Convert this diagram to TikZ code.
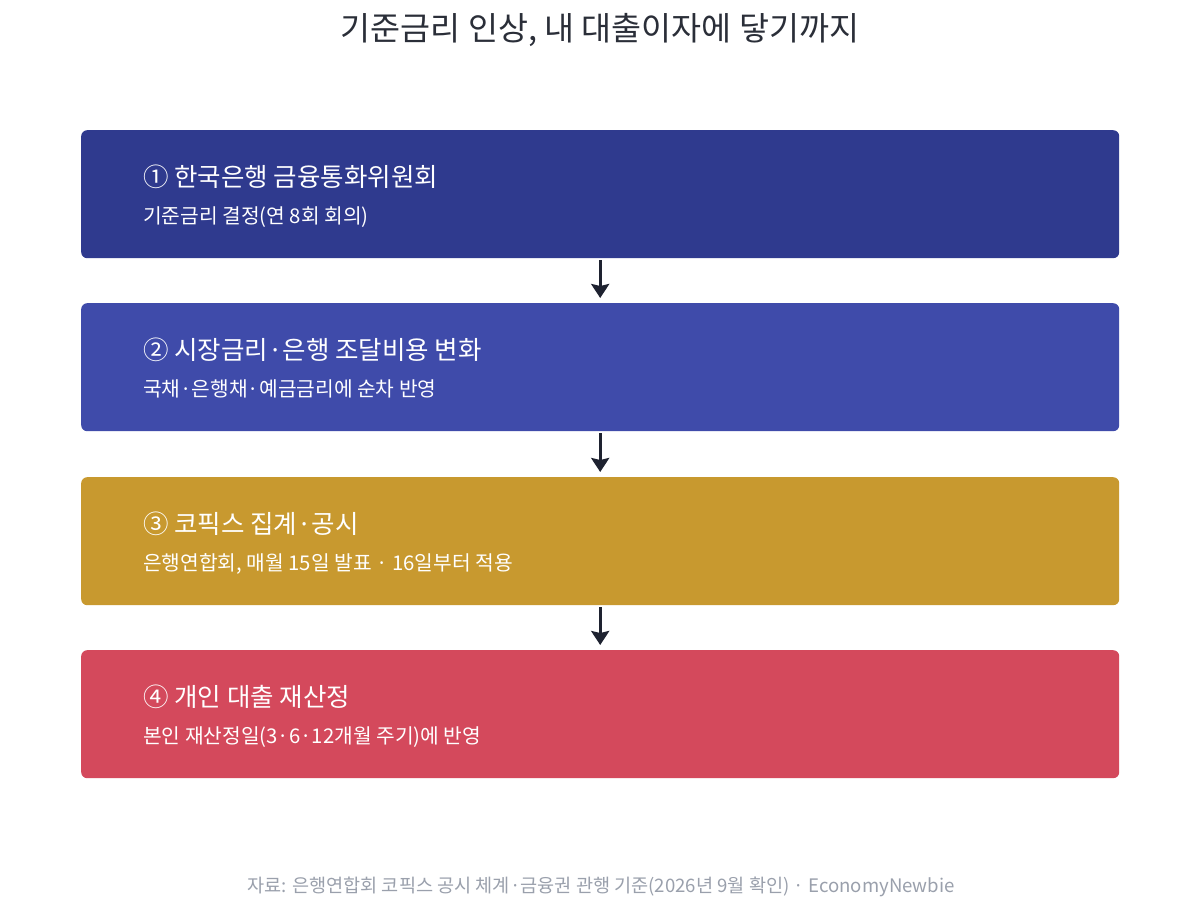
\documentclass[tikz,border=0pt]{standalone}
\usepackage{fontspec}
\setmainfont{Noto Sans CJK KR}
\usetikzlibrary{arrows.meta}
\definecolor{boxA}{HTML}{2F3A8E}
\definecolor{boxB}{HTML}{3F4BAA}
\definecolor{boxC}{HTML}{C8992F}
\definecolor{boxD}{HTML}{D4495C}
\definecolor{titlec}{HTML}{2A2E38}
\definecolor{arrowc}{HTML}{1E2230}
\definecolor{footc}{HTML}{9AA0AC}
\tikzset{
  stepbox/.style={rounded corners=6pt, inner sep=0pt, minimum width=1038pt, minimum height=128pt, anchor=north west},
  headtxt/.style={anchor=base west, inner sep=0pt, text=white, font=\fontsize{25.5}{30}\selectfont},
  subtxt/.style={anchor=base west, inner sep=0pt, text=white, font=\fontsize{20.3}{24}\selectfont},
  flowarrow/.style={draw=arrowc, line width=3.2pt, -{Stealth[length=14pt,width=18pt,inset=2pt]}, shorten <=2pt, shorten >=5pt},
}
\begin{document}
\begin{tikzpicture}[x=1pt,y=-1pt]
\useasboundingbox[fill=white] (0,0) rectangle (1200,910);
\node[anchor=base, inner sep=0pt, text=titlec, font=\fontsize{32.6}{38}\selectfont] (title) at (600,40) {기준금리 인상, 내 대출이자에 닿기까지};
\node[stepbox, fill=boxA] (b1) at (81,130) {};
\node[stepbox, fill=boxB] (b2) at (81,303) {};
\node[stepbox, fill=boxC] (b3) at (81,477) {};
\node[stepbox, fill=boxD] (b4) at (81,650) {};
\node[headtxt] (h1) at (143,186.5) {① 한국은행 금융통화위원회};
\node[subtxt] (s1) at (143,223.5) {기준금리 결정(연 8회 회의)};
\node[headtxt] (h2) at (143,359.5) {② 시장금리·은행 조달비용 변화};
\node[subtxt] (s2) at (143,396.5) {국채·은행채·예금금리에 순차 반영};
\node[headtxt] (h3) at (143,533.5) {③ 코픽스 집계·공시};
\node[subtxt] (s3) at (143,570.5) {은행연합회, 매월 15일 발표 · 16일부터 적용};
\node[headtxt] (h4) at (143,706.5) {④ 개인 대출 재산정};
\node[subtxt] (s4) at (143,743.5) {본인 재산정일(3·6·12개월 주기)에 반영};
\draw[flowarrow] (b1.south) -- (b2.north);
\draw[flowarrow] (b2.south) -- (b3.north);
\draw[flowarrow] (b3.south) -- (b4.north);
\node[anchor=base, inner sep=0pt, text=footc, font=\fontsize{18.6}{22}\selectfont] (foot) at (601,892.5) {자료: 은행연합회 코픽스 공시 체계·금융권 관행 기준(2026년 9월 확인) · EconomyNewbie};
\end{tikzpicture}
\end{document}
